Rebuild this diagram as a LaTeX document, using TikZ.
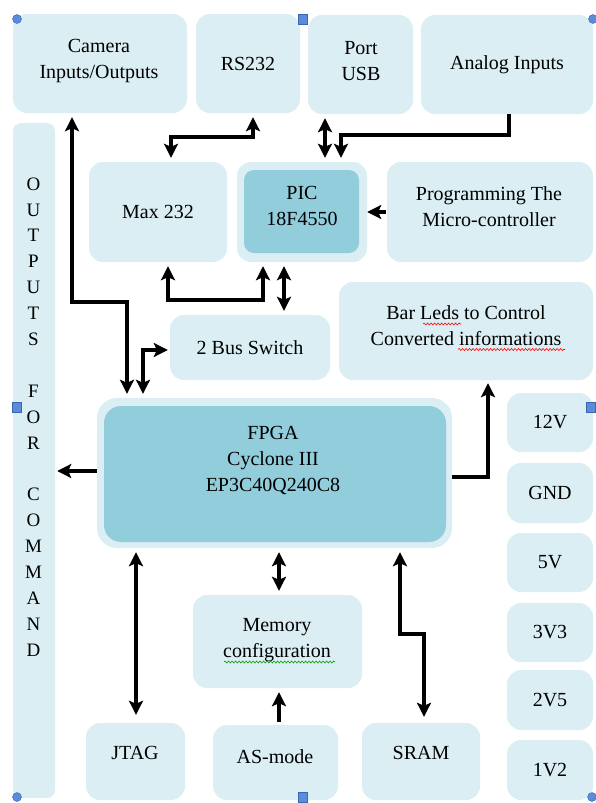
\documentclass[tikz,border=0pt]{standalone}
\usepackage{fontspec}
\setmainfont{Liberation Serif}
\usetikzlibrary{arrows.meta,decorations.pathmorphing}
\definecolor{lightb}{HTML}{DAEEF3}
\definecolor{darkb}{HTML}{92CDDC}
\definecolor{handlec}{HTML}{5A8CDB}
\definecolor{handled}{HTML}{3A66B0}
\begin{document}
\begin{tikzpicture}[x=1pt,y=-1pt,
  box/.style={rounded corners=14pt, fill=lightb, draw=none, inner sep=0pt, align=center, font=\fontsize{20}{26}\selectfont},
  corebox/.style={rounded corners=14pt, fill=darkb, draw=none, inner sep=0pt},
  txt/.style={align=center, inner sep=0pt, font=\fontsize{20}{26}\selectfont},
  conn/.style={line width=3.6pt, draw=black, >={Stealth[length=14pt,width=14pt,inset=3pt]}},
  hcirc/.style={circle, fill=handlec, draw=handled, line width=0.4pt, inner sep=0pt, minimum size=9pt},
  hsq/.style={rectangle, fill=handlec, draw=handled, line width=0.4pt, inner sep=0pt, minimum width=9pt, minimum height=10pt},
  wavy/.style={decorate, decoration={snake, amplitude=1pt, segment length=3.5pt}, line width=0.6pt}
]
\useasboundingbox (0,0) rectangle (595,803);

% top row
\node[box, minimum width=174pt, minimum height=99pt] (cam) at (100,63.5) {};
\node[txt] (camt) at (99,61) {Camera\\Inputs/Outputs};
\node[box, minimum width=104pt, minimum height=99pt] (rs) at (248,63.5) {RS232};
\node[box, minimum width=105pt, minimum height=99pt] (usb) at (360.5,64.5) {};
\node[txt] (usbt) at (361,61) {Port\\USB};
\node[box, minimum width=172pt, minimum height=99pt] (ana) at (507,64.5) {Analog Inputs};

% outputs column
\node[box, minimum width=42pt, minimum height=675pt, rounded corners=8pt] (outs) at (34,460.5) {};
\node[align=center, inner sep=0pt, font=\fontsize{19}{25.9}\selectfont] (outst) at (33.5,417)
  {O\\U\\T\\P\\U\\T\\S\\\mbox{}\\F\\O\\R\\\mbox{}\\C\\O\\M\\M\\A\\N\\D};

% second row
\node[box, minimum width=138pt, minimum height=100pt] (max) at (158,212) {Max 232};
\node[box, minimum width=130pt, minimum height=100pt] (pic) at (302,212) {};
\node[corebox, minimum width=115pt, minimum height=83pt, rounded corners=10pt] (picin) at (301.5,211.5) {};
\node[txt] (pict) at (302,206) {PIC\\18F4550};
\node[box, minimum width=206pt, minimum height=100pt] (prog) at (490,212) {};
\node[txt] (progt) at (489,206.5) {Programming The\\Micro-controller};

% third row
\node[box, minimum width=254pt, minimum height=98pt] (bar) at (466,331) {};
\node[txt] (bart) at (466,325.5) {Bar Leds to Control\\Converted informations};
\node[box, minimum width=160pt, minimum height=65pt] (bus) at (250,347.5) {2 Bus Switch};

% FPGA
\node[box, minimum width=355pt, minimum height=150pt, rounded corners=20pt] (fpga) at (274.5,473) {};
\node[corebox, minimum width=342pt, minimum height=136pt, rounded corners=17pt] (fpgain) at (275,474) {};
\node[txt] (fpgat) at (273,460) {FPGA\\Cyclone III\\EP3C40Q240C8};

% power column
\node[box, minimum width=86pt, minimum height=59pt] (v12) at (550,422.5) {12V};
\node[box, minimum width=86pt, minimum height=60pt] (gnd) at (550,493) {GND};
\node[box, minimum width=86pt, minimum height=59pt] (v5) at (550,562.5) {5V};
\node[box, minimum width=86pt, minimum height=59pt] (v33) at (550,632.5) {3V3};
\node[box, minimum width=86pt, minimum height=60pt] (v25) at (550,700) {2V5};
\node[box, minimum width=86pt, minimum height=60pt] (v12b) at (550,770) {1V2};

% memory and bottom row
\node[box, minimum width=169pt, minimum height=93pt] (mem) at (277.5,641.5) {};
\node[txt] (memt) at (277,640) {Memory\\configuration};
\node[box, minimum width=99pt, minimum height=77pt] (jtag) at (135.5,761.5) {};
\node[txt] (jtagt) at (135,753) {JTAG};
\node[box, minimum width=125pt, minimum height=75pt] (asm) at (275.5,762.5) {};
\node[txt] (asmt) at (275,757) {AS-mode};
\node[box, minimum width=118pt, minimum height=77pt] (sram) at (421,761.5) {};
\node[txt] (sramt) at (421,753) {SRAM};

% spell-check underlines
\draw[wavy, red] (423,324) -- (461,324);
\draw[wavy, red] (458,349.5) -- (565,349.5);
\draw[wavy, green!60!black] (224,662) -- (335,662);

% connectors
\draw[conn,<->] ([xshift=-28pt,yshift=-4pt]cam.south) -- (72,302) -- (127,302) -- ([xshift=-147.5pt,yshift=4pt]fpga.north);
\draw[conn,<->] ([xshift=-2pt,yshift=-2.5pt]bus.west) -- (143,350) -- ([xshift=-131.5pt,yshift=4pt]fpga.north);
\draw[conn,<->] ([xshift=5pt,yshift=-4pt]rs.south) -- (253,137) -- (171,137) -- ([xshift=13pt,yshift=4pt]max.north);
\draw[conn,<->] ([xshift=-35.5pt,yshift=-4pt]usb.south) -- ([xshift=23pt,yshift=4pt]pic.north);
\draw[conn,->] ([xshift=2pt]ana.south) -- (509,135) -- (341,135) -- ([xshift=39pt,yshift=4pt]pic.north);
\draw[conn,->] ([xshift=-1pt]prog.west) -- (pic.east);
\draw[conn,<->] ([xshift=10pt,yshift=-4pt]max.south) -- (168,300) -- (263,300) -- ([xshift=-39pt,yshift=-4pt]pic.south);
\draw[conn,<->] ([xshift=-18pt,yshift=-4pt]pic.south) -- ([xshift=34pt,yshift=4pt]bus.north);
\draw[conn,->] ([yshift=2pt]fpga.west) -- ([xshift=2pt,yshift=-10.5pt]outs.east);
\draw[conn,->] ([yshift=-4pt]fpga.east) -- (488,477) -- ([xshift=22pt,yshift=-3pt]bar.south);
\draw[conn,<->] ([xshift=4.5pt,yshift=-4pt]fpga.south) -- ([xshift=1.5pt,yshift=4pt]mem.north);
\draw[conn,<->] ([xshift=-138.5pt,yshift=-4pt]fpga.south) -- ([xshift=0.5pt,yshift=8pt]jtag.north);
\draw[conn,->] ([xshift=3.5pt,yshift=3pt]asm.north) -- ([xshift=1.5pt,yshift=-4pt]mem.south);
\draw[conn,<->] ([xshift=125.5pt,yshift=-4pt]fpga.south) -- (400,634) -- (424,634) -- ([xshift=3pt,yshift=6pt]sram.north);

% selection handles
\node[hcirc] (h1) at (17,19) {};
\node[hsq] (h2) at (303,19) {};
\node[hcirc] (h3) at (593,19) {};
\node[hsq] (h4) at (17,407) {};
\node[hsq] (h5) at (591,407) {};
\node[hcirc] (h6) at (17,797) {};
\node[hsq] (h7) at (303,797) {};
\node[hcirc] (h8) at (592,797) {};
\end{tikzpicture}
\end{document}
